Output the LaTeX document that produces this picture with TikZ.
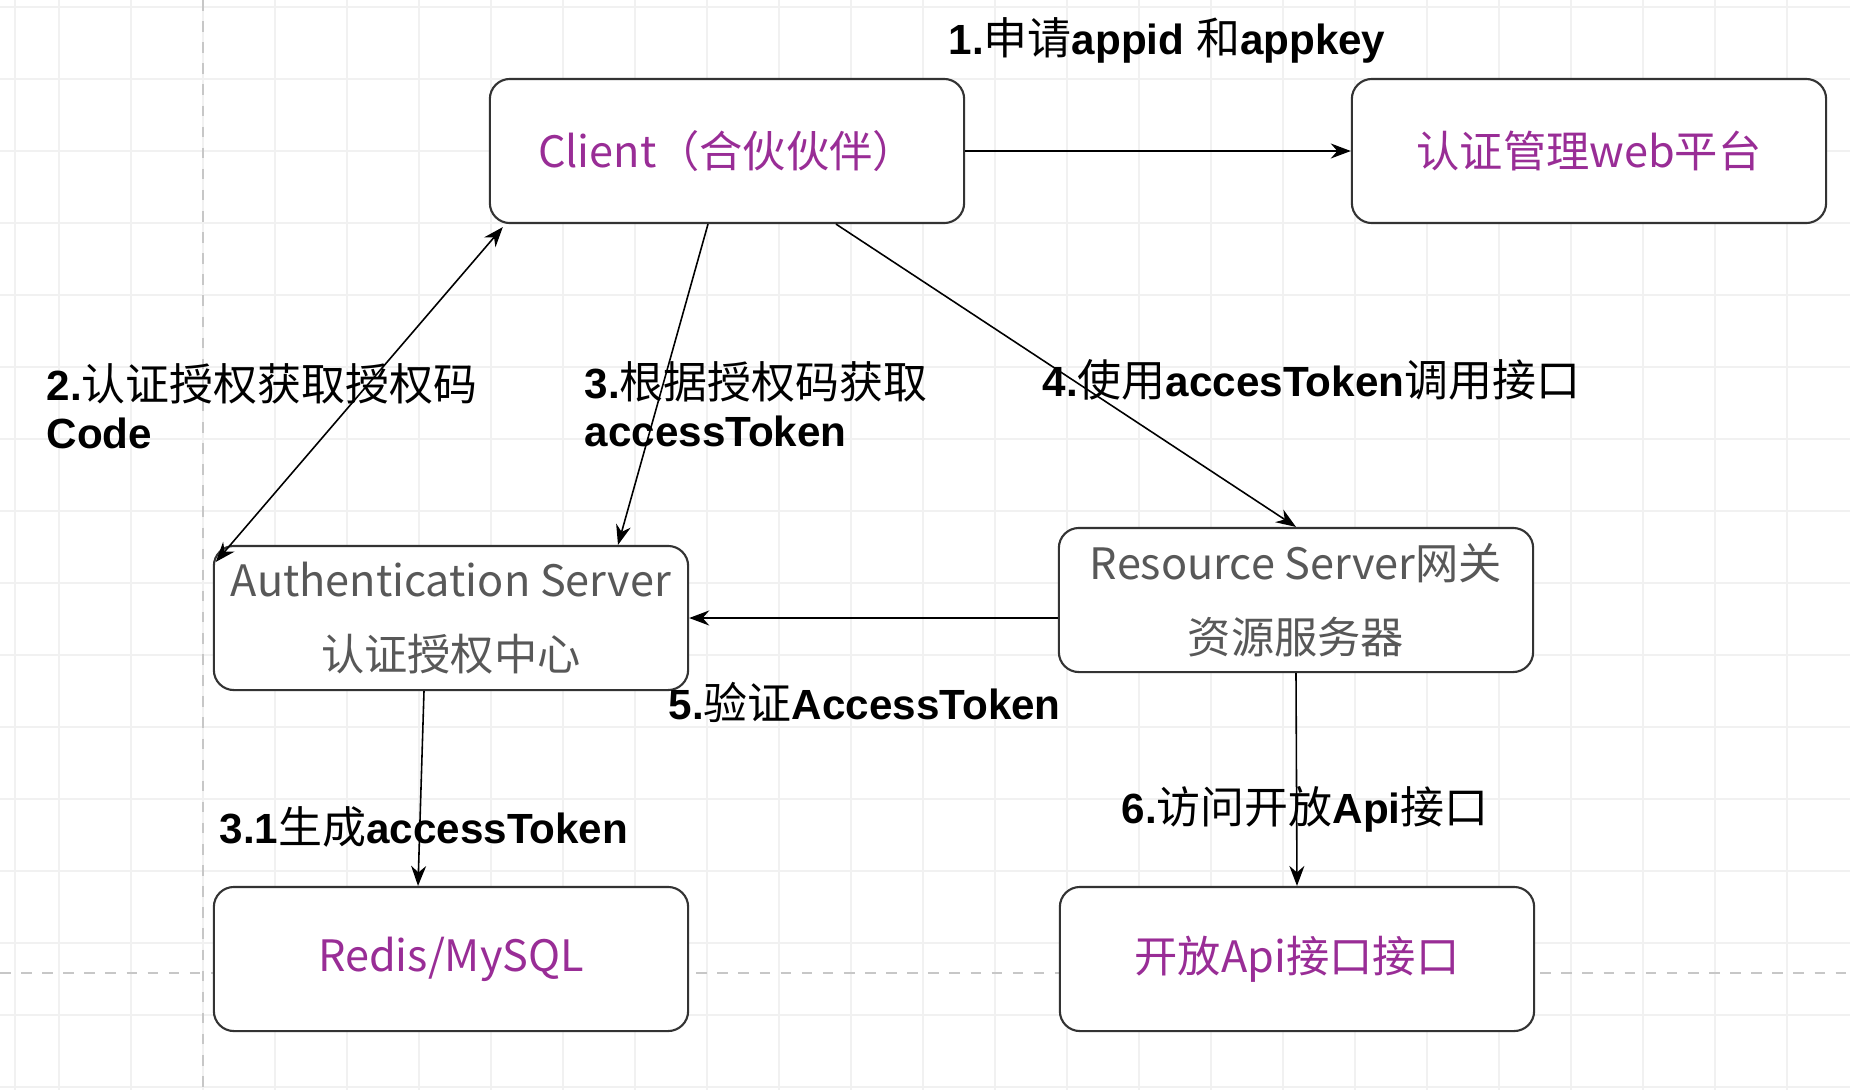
\documentclass[tikz,border=0pt]{standalone}
\usepackage{fontspec}
\setmainfont{Liberation Sans}
\newfontfamily\cjk{Noto Sans CJK SC}
\usetikzlibrary{arrows.meta,calc}
\definecolor{boxpurple}{RGB}{153,45,150}
\definecolor{boxgray}{RGB}{88,88,88}
\definecolor{gridgray}{RGB}{241,241,241}
\newcommand{\zh}[1]{{\cjk\mdseries\fontsize{12.5}{13.65}\selectfont #1}}

\begin{document}
\begin{tikzpicture}[x=0.01cm,y=-0.01cm,
    >={Stealth[length=0.2cm,width=0.15cm]},
    box/.style={draw=black!80,line width=0.6pt,fill=white,rounded corners=0.2cm,
      minimum width=4.74cm,minimum height=1.44cm,inner sep=0pt,align=center,
      font=\cjk\fontsize{12.3}{21}\selectfont},
    lbl/.style={anchor=west,inner sep=0pt,align=left,
      font=\bfseries\fontsize{12}{13.65}\selectfont},
    arr/.style={->,line width=0.45pt}]

  % Page and grid
  \useasboundingbox (0,0) rectangle (1850,1090);
  \fill[white] (0,0) rectangle (1850,1090);
  \foreach \x in {59,131,...,1850} {
    \draw[gridgray] (\x,0) -- (\x,1090);
  }
  \foreach \y in {7,79,...,1090} {
    \draw[gridgray] (0,\y) -- (1850,\y);
  }
  \draw[gridgray] (15,0) -- (15,1090);
  \draw[black!22,dashed] (203,0) -- (203,1090);
  \draw[black!22,dashed] (0,973) -- (1850,973);

  % Draw boxes
  \node[box,text=boxpurple] (client) at (727,151) {Client（合伙伙伴）};
  \node[box,text=boxpurple] (web) at (1589,151) {认证管理web平台};
  \node[box,text=boxgray] (auth) at (451,618) {Authentication Server\\认证授权中心};
  \node[box,text=boxgray] (res) at (1296,600) {Resource Server网关\\资源服务器};
  \node[box,text=boxpurple] (db) at (451,959) {Redis/MySQL};
  \node[box,text=boxpurple] (api) at (1297,959) {开放Api接口接口};

  % Draw step labels
  \node[lbl] (l1) at (948,40) {1.\zh{申请}appid \zh{和}appkey};
  \node[lbl] (l2) at (46,406) {2.\zh{认证授权获取授权码}\\Code};
  \node[lbl] (l3) at (584,404) {3.\zh{根据授权码获取}\\accessToken};
  \node[lbl] (l4) at (1042,380) {4.\zh{使用}accesToken\zh{调用接口}};
  \node[lbl] (l5) at (668,702) {5.\zh{验证}AccessToken};
  \node[lbl] (l31) at (219,827) {3.1\zh{生成}accessToken};
  \node[lbl] (l6) at (1121,809) {6.\zh{访问开放}Api\zh{接口}};

  % Draw connectors
  \draw[arr] (client.east) -- (web.west);
  \draw[arr,<->] ($(client.south west)+(14,3)$) -- ($(auth.north west)+(3,17)$);
  \draw[arr] ($(client.south)+(-19,0)$) -- ($(auth.north)+(167,0)$);
  \draw[arr] ($(client.south)+(109,0)$) -- (res.north);
  \draw[arr] (res.west |- auth.east) -- (auth.east);
  \draw[arr] ($(auth.south)+(-27,0)$) -- ($(db.north)+(-33,0)$);
  \draw[arr] (res.south) -- (api.north);

\end{tikzpicture}
\end{document}
